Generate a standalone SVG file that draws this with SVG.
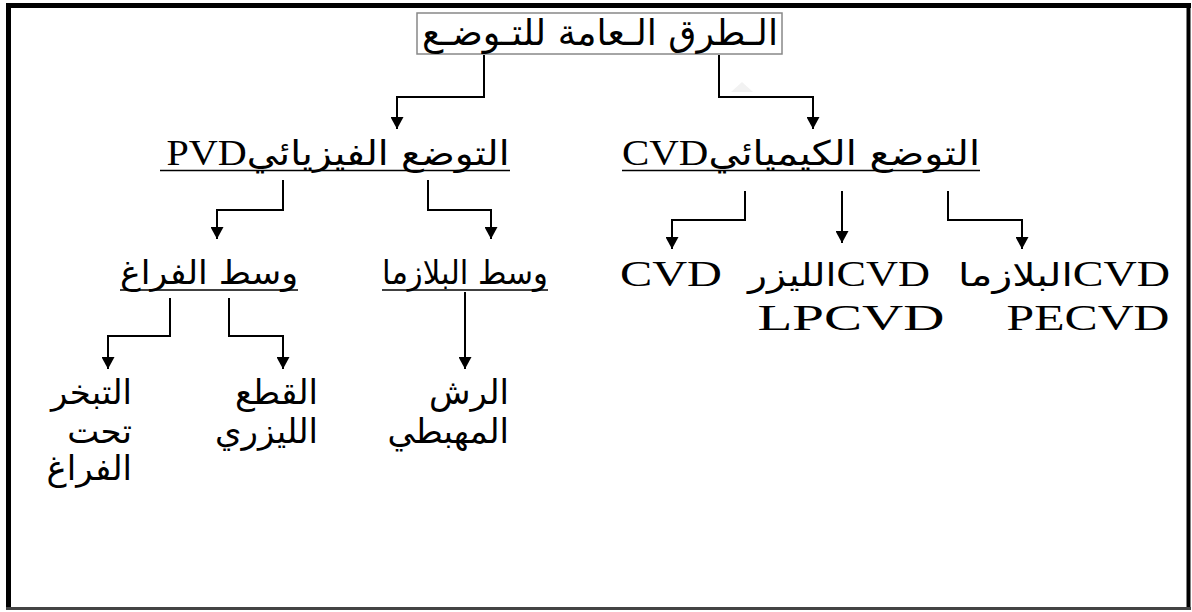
<svg xmlns="http://www.w3.org/2000/svg" width="1192" height="612" viewBox="0 0 1192 612">
<defs>
<marker id="arr" markerUnits="userSpaceOnUse" markerWidth="14" markerHeight="13" refX="12" refY="6.5" orient="auto">
<path d="M0,0 L12,6.5 L0,13 Z" fill="#000"/>
</marker>
<style>
.ar{font-family:"DejaVu Sans","Noto Sans",sans-serif;fill:#000}
.lat{font-family:"Liberation Serif","DejaVu Serif",serif;fill:#000}
.mix{font-family:"Liberation Serif","DejaVu Sans",serif;fill:#000}
.conn path{fill:none;stroke:#000;stroke-width:2;marker-end:url(#arr)}
.ul{stroke:#000;stroke-width:1.5}
</style>
</defs>
<rect width="1192" height="612" fill="#fff"/>
<g id="frame">
<line x1="8.5" y1="3" x2="8.5" y2="610" stroke="#000" stroke-width="5"/>
<line x1="6" y1="5.5" x2="1191" y2="5.5" stroke="#000" stroke-width="5"/>
<line x1="1188.5" y1="3" x2="1188.5" y2="610" stroke="#000" stroke-width="4"/>
<line x1="6" y1="608.5" x2="1191" y2="608.5" stroke="#444" stroke-width="3"/>
</g>
<polygon points="742,82 753,92 731,92" fill="#f2f2f2"/>
<g id="title">
<rect x="417" y="13" width="365" height="41" fill="#fff" stroke="#888" stroke-width="1.5"/>
<text class="ar" x="600" y="45" font-size="36" text-anchor="middle" direction="rtl" textLength="356" lengthAdjust="spacingAndGlyphs">الـطرق الـعامة للتـوضـع</text>
</g>
<g id="pvd">
<text class="mix" x="338" y="165" text-anchor="middle" direction="rtl" textLength="343" lengthAdjust="spacingAndGlyphs"><tspan class="ar" font-size="34">التوضع الفيزيائي</tspan><tspan class="lat" font-size="35">PVD</tspan></text>
<line class="ul" x1="160" y1="170.5" x2="510" y2="170.5"/>
</g>
<g id="cvd">
<text class="mix" x="801" y="165" text-anchor="middle" direction="rtl" textLength="358" lengthAdjust="spacingAndGlyphs"><tspan class="ar" font-size="34">التوضع الكيميائي</tspan><tspan class="lat" font-size="35">CVD</tspan></text>
<line class="ul" x1="622" y1="170.5" x2="980" y2="170.5"/>
</g>
<g id="vacuum">
<text class="ar" x="209" y="284" font-size="33" text-anchor="middle" direction="rtl" textLength="178" lengthAdjust="spacingAndGlyphs">وسط الفراغ</text>
<line class="ul" x1="120" y1="290" x2="298" y2="290"/>
</g>
<g id="plasma">
<text class="ar" x="465" y="284" font-size="33" text-anchor="middle" direction="rtl" textLength="166" lengthAdjust="spacingAndGlyphs">وسط البلازما</text>
<line class="ul" x1="382" y1="290" x2="548" y2="290"/>
</g>
<g id="cvd-plain">
<text class="lat" x="671" y="286" font-size="36" text-anchor="middle" textLength="102" lengthAdjust="spacingAndGlyphs">CVD</text>
</g>
<g id="cvd-laser">
<text class="mix" x="839" y="286" text-anchor="middle" direction="rtl" textLength="182" lengthAdjust="spacingAndGlyphs"><tspan class="lat" font-size="36">CVD</tspan><tspan class="ar" font-size="32">الليزر</tspan></text>
<text class="lat" x="851" y="330" font-size="36" text-anchor="middle" textLength="187" lengthAdjust="spacingAndGlyphs">LPCVD</text>
</g>
<g id="cvd-plasma">
<text class="mix" x="1064" y="286" text-anchor="middle" direction="rtl" textLength="212" lengthAdjust="spacingAndGlyphs"><tspan class="lat" font-size="36">CVD</tspan><tspan class="ar" font-size="32">البلازما</tspan></text>
<text class="lat" x="1088" y="330" font-size="36" text-anchor="middle" textLength="163" lengthAdjust="spacingAndGlyphs">PECVD</text>
</g>
<g id="evaporation">
<text class="ar" x="132" y="404" font-size="34" text-anchor="end">التبخر</text>
<text class="ar" x="132" y="443" font-size="34" text-anchor="end">تحت</text>
<text class="ar" x="132" y="480" font-size="34" text-anchor="end">الفراغ</text>
</g>
<g id="laser-ablation">
<text class="ar" x="318" y="404" font-size="34" text-anchor="end">القطع</text>
<text class="ar" x="318" y="443" font-size="34" text-anchor="end">الليزري</text>
</g>
<g id="sputtering">
<text class="ar" x="509" y="404" font-size="34" text-anchor="end">الرش</text>
<text class="ar" x="509" y="443" font-size="34" text-anchor="end">المهبطي</text>
</g>
<g id="connectors" class="conn">
<path d="M484,55 V97 H397 V129"/>
<path d="M719,55 V97 H813 V129"/>
<path d="M283,180 V210 H217 V239"/>
<path d="M428,180 V210 H491 V239"/>
<path d="M745,191 V220 H672 V249"/>
<path d="M842,191 V243"/>
<path d="M948,191 V220 H1022 V249"/>
<path d="M170,298 V336 H108 V369"/>
<path d="M229,298 V336 H283 V369"/>
<path d="M465,292 V369"/>
</g>
</svg>
